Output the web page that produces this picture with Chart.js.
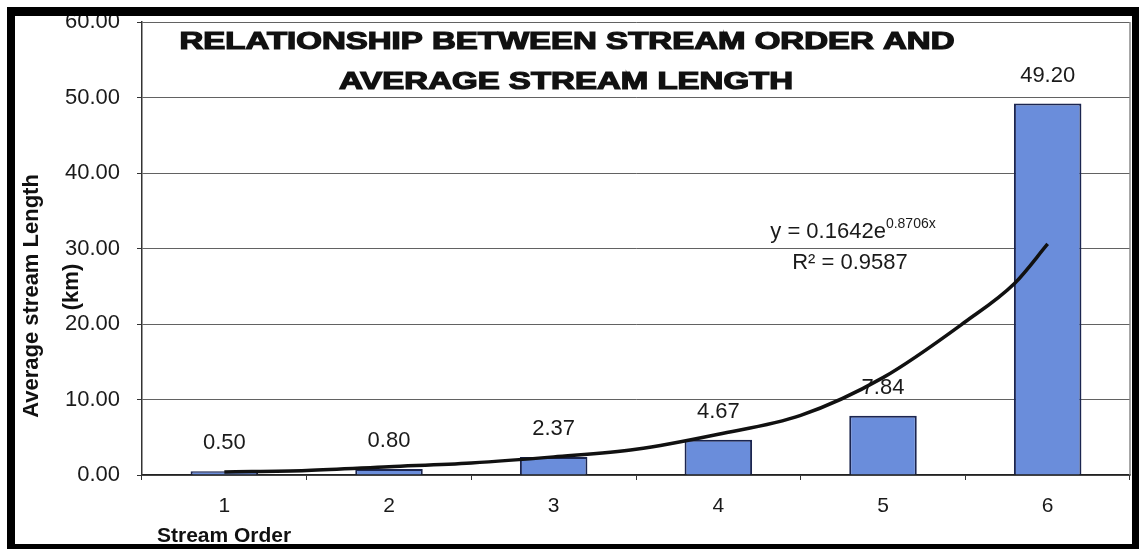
<!DOCTYPE html>
<html lang="en">
<head>
    <meta charset="UTF-8">
    <title>Stream Order vs Average Stream Length</title>
    <script src="https://cdn.jsdelivr.net/npm/chart.js"></script>
    <style>
        html, body { margin: 0; padding: 0; background: #fff; }
        .frame {
            position: absolute; left: 7px; top: 7px;
            width: 1132px; height: 542px; box-sizing: border-box;
            border-style: solid; border-color: #000;
            border-width: 9px 7px 5px 8px;
            background: #fff;
        }
        .wrap { position: relative; width: 1117px; height: 528px; }
    </style>
</head>
<body>
    <div class="frame">
        <div class="wrap"><canvas id="streamChart"></canvas></div>
    </div>
    <script>
        // data
        const streamOrders = ['1', '2', '3', '4', '5', '6'];
        const avgLength = [0.50, 0.80, 2.37, 4.67, 7.84, 49.20];
        const yTicks = [0, 10, 20, 30, 40, 50, 60];

        // exponential trendline, points
        const trendX = [1, 1.5, 2, 2.5, 3, 3.5, 4, 4.5, 5, 5.5, 5.8, 6];
        const trendY = [0.4, 0.6, 1.1, 1.6, 2.4, 3.4, 5.4, 7.9, 12.9, 20.3, 25.4, 30.6];

        const titleLines = ['RELATIONSHIP BETWEEN STREAM ORDER AND', 'AVERAGE STREAM LENGTH'];
        const yTitle = ['Average stream Length', '(km)'];
        const xTitle = 'Stream Order';
        const equation = ['y = 0.1642e', '0.8706x'];
        const rSquared = 'R\u00B2 = 0.9587';

        const FONT = '"Liberation Sans", Arial, sans-serif';
        Chart.defaults.font.family = FONT;
        Chart.defaults.color = '#1a1a1a';

        const sheetText = {
            id: 'sheetText',
            afterDatasetDraw(chart, args) {
                if (args.index !== 0) return;
                const ctx = chart.ctx;
                ctx.save();
                ctx.font = '22px ' + FONT;
                ctx.fillStyle = '#1a1a1a';
                ctx.textAlign = 'center';
                ctx.textBaseline = 'middle';
                args.meta.data.forEach((bar, i) => {
                    ctx.fillText(avgLength[i].toFixed(2), bar.x, bar.y - 28);
                });
                ctx.restore();
            },
            afterDraw(chart) {
                const ctx = chart.ctx;
                const area = chart.chartArea;
                ctx.save();

                // plot area right edge
                ctx.strokeStyle = '#8a8a8a';
                ctx.lineWidth = 1.5;
                ctx.beginPath();
                ctx.moveTo(area.right, area.top);
                ctx.lineTo(area.right, area.bottom);
                ctx.stroke();

                ctx.fillStyle = '#111';
                ctx.textBaseline = 'middle';

                // title, stretched wide like the original
                ctx.font = 'bold 23px ' + FONT;
                const sx = 775 / ctx.measureText(titleLines[0]).width;
                [[titleLines[0], 552, 27], [titleLines[1], 551, 67]].forEach(([t, cx, cy]) => {
                    ctx.save();
                    ctx.translate(cx, cy);
                    ctx.scale(sx, 1);
                    ctx.textAlign = 'center';
                    ctx.lineWidth = 1.2;
                    ctx.strokeStyle = '#111';
                    ctx.fillText(t, 0, 0);
                    ctx.strokeText(t, 0, 0);
                    ctx.restore();
                });

                // y axis title
                ctx.font = 'bold 22px ' + FONT;
                ctx.textAlign = 'center';
                ctx.save();
                ctx.translate(17, 280);
                ctx.rotate(-Math.PI / 2);
                ctx.fillText(yTitle[0], 0, 0);
                ctx.restore();
                ctx.save();
                ctx.translate(57, 271);
                ctx.rotate(-Math.PI / 2);
                ctx.fillText(yTitle[1], 0, 0);
                ctx.restore();

                // x axis title
                ctx.font = 'bold 21px ' + FONT;
                ctx.textAlign = 'left';
                ctx.fillText(xTitle, 142, 520);

                // trendline equation
                ctx.fillStyle = '#1a1a1a';
                ctx.font = '22px ' + FONT;
                const wm = ctx.measureText(equation[0]).width;
                ctx.font = '14px ' + FONT;
                const ws = ctx.measureText(equation[1]).width;
                const left = 838 - (wm + ws) / 2;
                ctx.textAlign = 'left';
                ctx.font = '22px ' + FONT;
                ctx.fillText(equation[0], left, 216);
                ctx.font = '14px ' + FONT;
                ctx.fillText(equation[1], left + wm, 208);
                ctx.font = '22px ' + FONT;
                ctx.textAlign = 'center';
                ctx.fillText(rSquared, 835, 247);

                ctx.restore();
            }
        };

        new Chart(document.getElementById('streamChart'), {
            data: {
                labels: streamOrders,
                datasets: [
                    {
                        type: 'bar',
                        data: avgLength,
                        backgroundColor: '#6a8ddb',
                        borderColor: '#1b2550',
                        borderWidth: 2,
                        grouped: false,
                        categoryPercentage: 1,
                        barPercentage: 0.41,
                        order: 1
                    },
                    {
                        type: 'line',
                        xAxisID: 'xt',
                        data: trendX.map((x, i) => ({ x: x, y: trendY[i] })),
                        borderColor: '#111',
                        borderWidth: 3.5,
                        pointRadius: 0,
                        cubicInterpolationMode: 'monotone',
                        fill: false,
                        order: 0
                    }
                ]
            },
            options: {
                responsive: true,
                maintainAspectRatio: false,
                animation: false,
                layout: { padding: { top: 6, right: 2, left: 0, bottom: 0 } },
                plugins: {
                    legend: { display: false },
                    tooltip: { enabled: false },
                    title: { display: false }
                },
                scales: {
                    x: {
                        type: 'category',
                        offset: true,
                        grid: {
                            display: true,
                            offset: true,
                            drawOnChartArea: false,
                            tickLength: 5,
                            color: '#333'
                        },
                        border: { display: true, color: '#222', width: 1.5 },
                        ticks: { font: { size: 21 }, padding: 14, color: '#1a1a1a' },
                        afterFit(scale) {
                            scale.height = 69;
                            scale.paddingLeft = 0;
                            scale.paddingRight = 0;
                        }
                    },
                    xt: {
                        type: 'linear',
                        display: false,
                        min: 0.5,
                        max: 6.5
                    },
                    y: {
                        min: 0,
                        max: 60,
                        afterBuildTicks(scale) {
                            scale.ticks = yTicks.map(v => ({ value: v }));
                        },
                        grid: {
                            color: 'rgba(70,70,70,0.85)',
                            lineWidth: 1,
                            tickLength: 5,
                            tickColor: '#333'
                        },
                        border: { display: true, color: '#333', width: 1.5 },
                        ticks: {
                            font: { size: 22 },
                            padding: 17,
                            color: '#1a1a1a',
                            callback: v => v.toFixed(2)
                        },
                        afterFit(scale) {
                            scale.width = 127;
                            scale.paddingTop = 0;
                            scale.paddingBottom = 0;
                        }
                    }
                }
            },
            plugins: [sheetText]
        });
    </script>
</body>
</html>
